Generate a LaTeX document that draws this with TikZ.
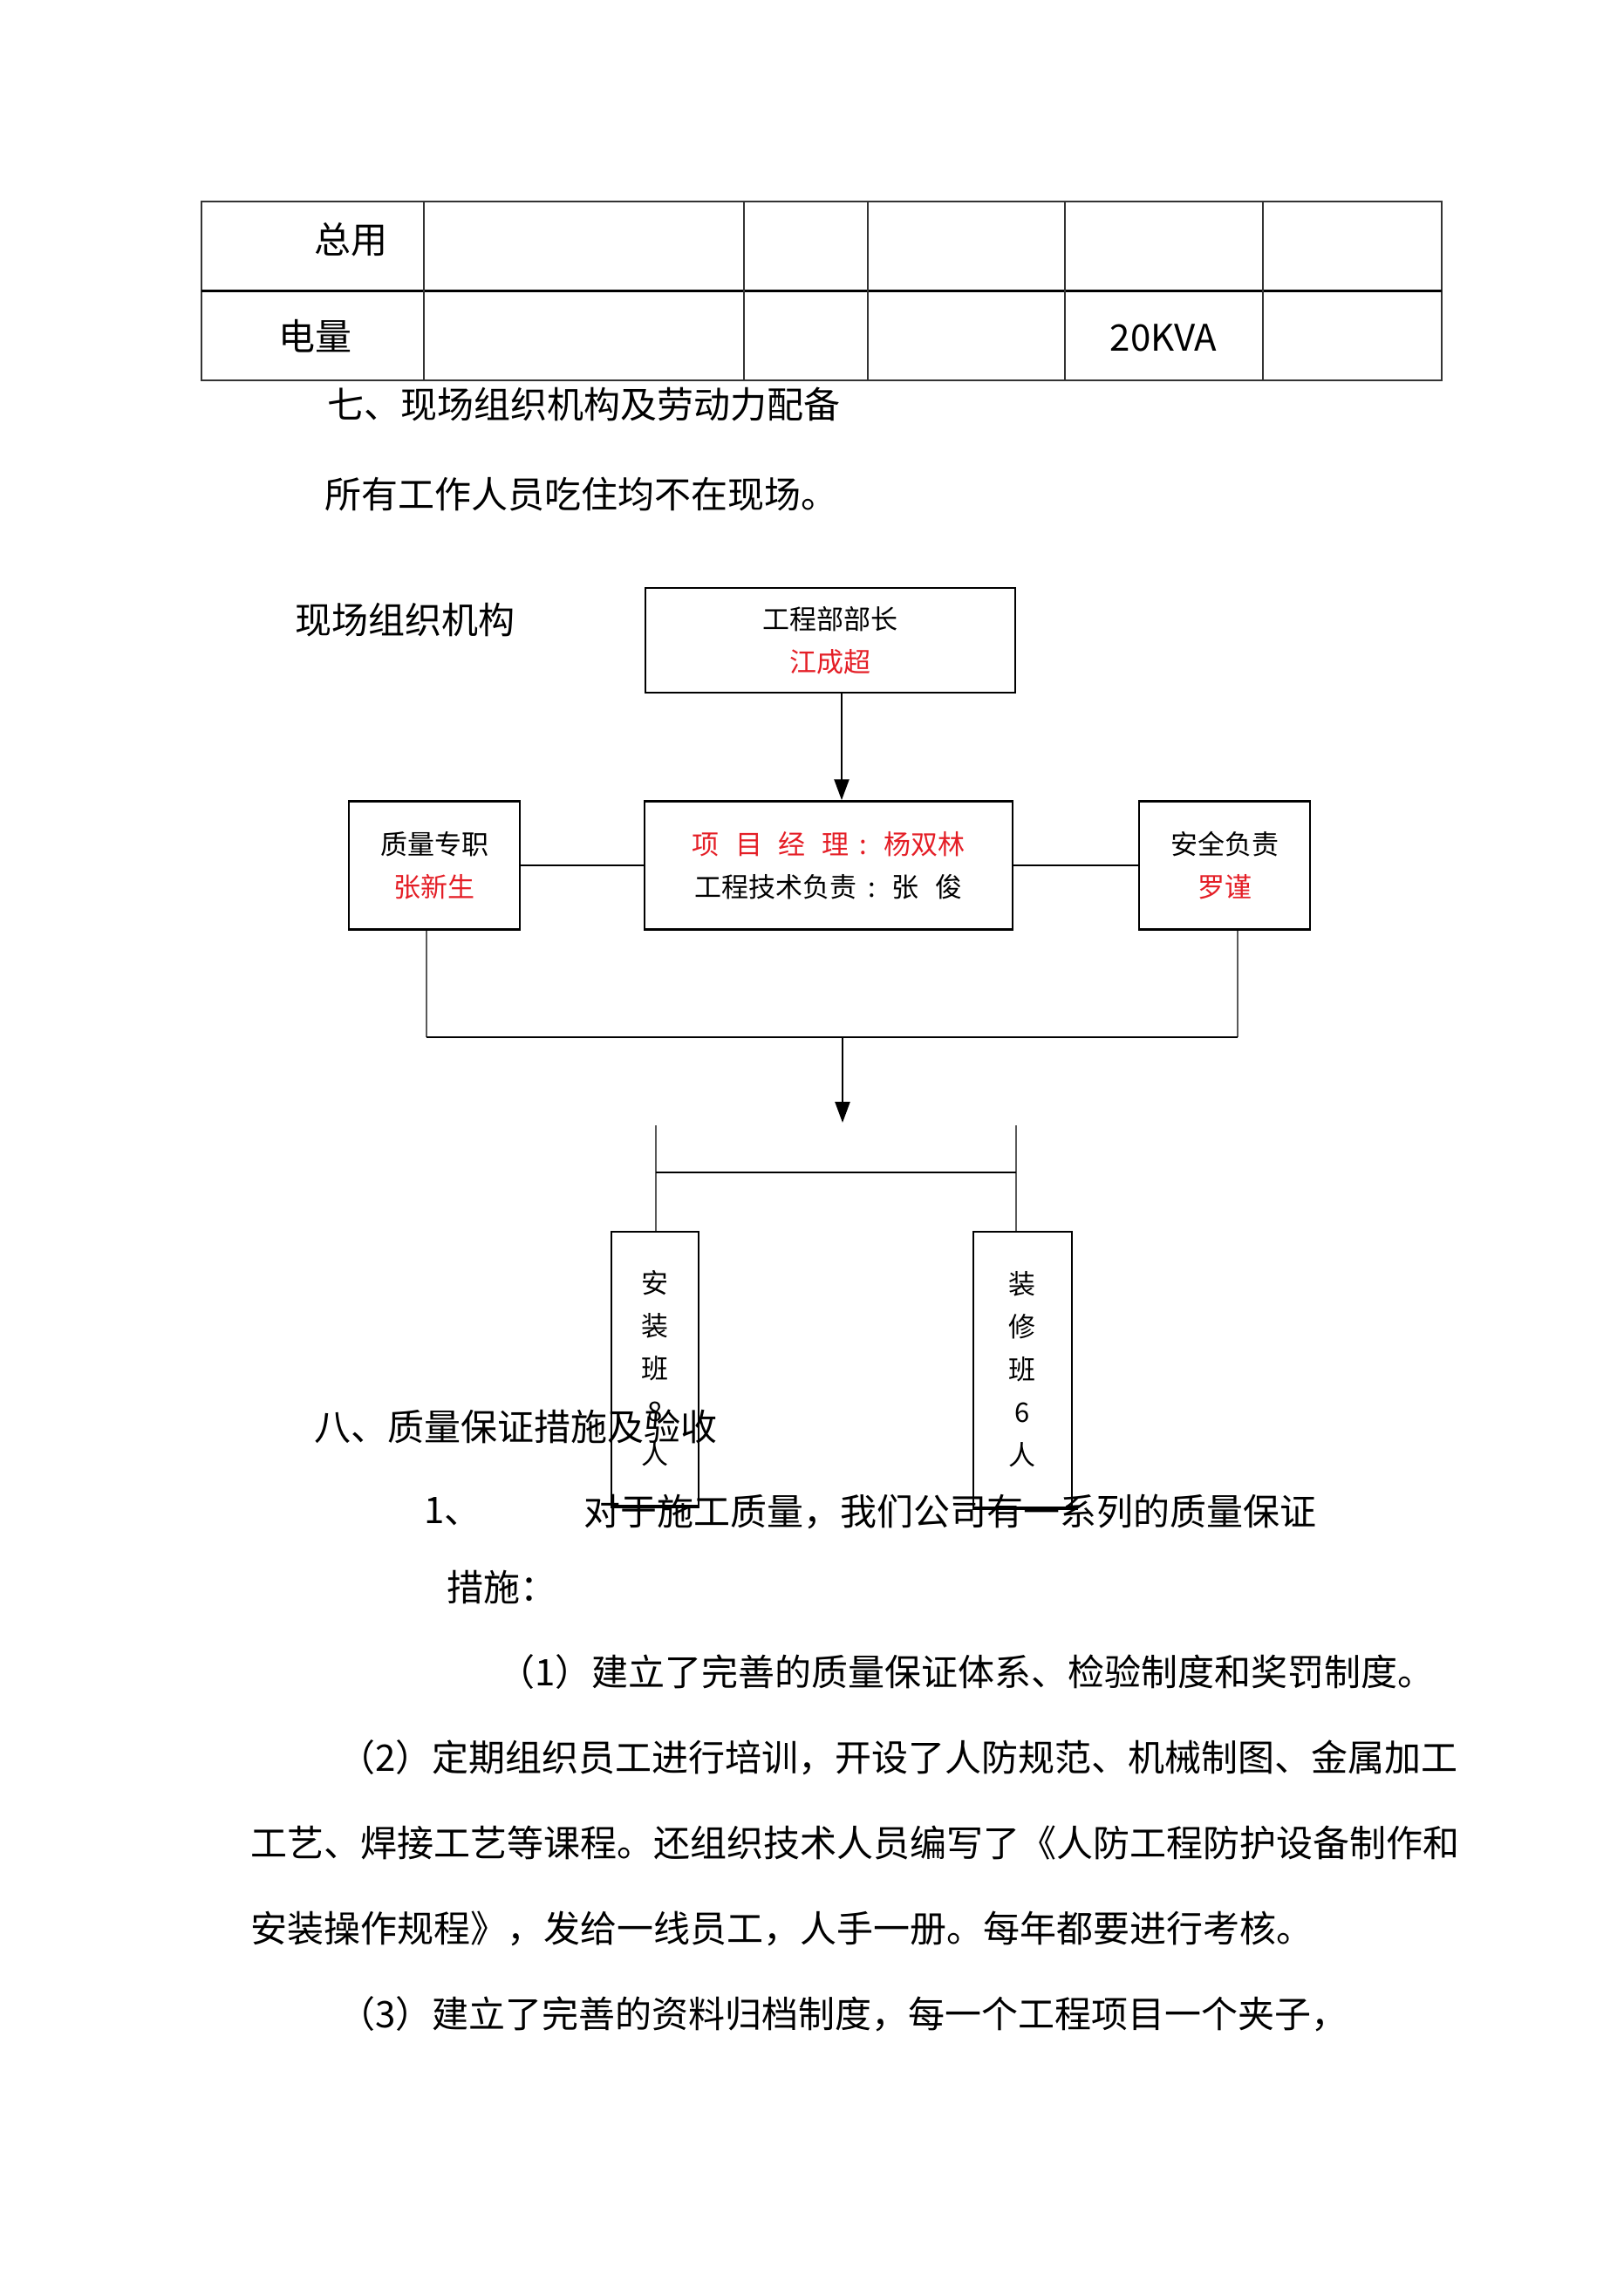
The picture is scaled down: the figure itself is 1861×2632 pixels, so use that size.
\documentclass[tikz,border=0pt]{standalone}
\usepackage{fontspec}
\setmainfont{Noto Sans CJK SC}
\usetikzlibrary{arrows.meta}
\definecolor{myred}{RGB}{228,30,38}
\begin{document}
\begin{tikzpicture}[x=1pt,y=-1pt,
  body/.style={anchor=west,inner sep=0pt,font=\fontsize{42}{50}\selectfont},
  cell/.style={inner sep=0pt,font=\fontsize{42}{50}\selectfont},
  orgbox/.style={draw,line width=2.5pt,inner sep=0pt,align=center,font=\fontsize{31}{49}\selectfont},
  conn/.style={line width=2.5pt},
  gline/.style={line width=2.2pt,black!65},
  arr/.style={line width=2.5pt,-{Triangle[length=24pt,width=17pt]}},
  tbl/.style={line width=1.5pt,black!80}]
\useasboundingbox (0,0) rectangle (1861,2632);

% ---------- table ----------
\draw[tbl] (231,231) rectangle (1653,436);
\draw[line width=3pt] (231,333) -- (1653,333);
\foreach \cx in {486,853,995,1221,1448}{\draw[tbl] (\cx,231) -- (\cx,436);}
\node[cell] (c1) at (402,275) {总用};
\node[cell] (c2) at (361,385) {电量};
\node[cell] (c3) at (1334,387) {20KVA};

% ---------- text above ----------
\node[body] (h7) at (375,464) {七、现场组织机构及劳动力配备};
\node[body] (p1) at (372,567) {所有工作人员吃住均不在现场。};
\node[body] (org) at (338,711) {现场组织机构};

% ---------- org chart ----------
\node[orgbox,minimum width=424pt,minimum height=120pt] (top) at (952,734)
  {工程部部长\\\textcolor{myred}{江成超}};
\node[orgbox,minimum width=422pt,minimum height=147pt] (mid) at (950,992)
  {\textcolor{myred}{项\hspace{0.6em}目\hspace{0.6em}经\hspace{0.6em}理\hspace{0.4em}:\hspace{0.6em}杨双林}\\工程技术负责\hspace{0.4em}:\hspace{0.6em}张\hspace{0.6em}俊};
\node[orgbox,minimum width=196pt,minimum height=147pt] (qual) at (498,992)
  {质量专职\\\textcolor{myred}{张新生}};
\node[orgbox,minimum width=196pt,minimum height=147pt] (safe) at (1404,992)
  {安全负责\\\textcolor{myred}{罗谨}};

\draw[arr] ([xshift=13pt]top.south) -- ([xshift=15pt]mid.north);
\draw[conn] (qual.east) -- (mid.west);
\draw[conn] (mid.east) -- (safe.west);

\coordinate (busL) at (489,1189);
\coordinate (busR) at (1419,1189);
\coordinate (busM) at (966,1189);
\coordinate (tip) at (966,1287);
\draw[gline] (qual.south -| busL) -- (busL);
\draw[gline] (safe.south -| busR) -- (busR);
\draw[conn] (busL) -- (busR);
\draw[arr] (busM) -- (tip);

% ---------- text below (under the boxes) ----------
\node[body] (h8) at (360,1635) {八、质量保证措施及验收};
\node[body] (n1) at (486,1733) {1、};
\node[body] (n1t) at (669,1733) {对于施工质量，我们公司有一系列的质量保证};
\node[body] (n1b) at (512,1819) {措施：};
\node[body] (q1) at (571,1917) {（1）建立了完善的质量保证体系、检验制度和奖罚制度。};
\node[body] (q2) at (388,2015) {（2）定期组织员工进行培训，开设了人防规范、机械制图、金属加工};
\node[body] (q2b) at (287,2113) {工艺、焊接工艺等课程。还组织技术人员编写了《人防工程防护设备制作和};
\node[body] (q2c) at (287,2211) {安装操作规程》，发给一线员工，人手一册。每年都要进行考核。};
\node[body] (q3) at (388,2309) {（3）建立了完善的资料归档制度，每一个工程项目一个夹子，};

% ---------- team boxes ----------
\node[orgbox,line width=2pt,minimum width=100pt,minimum height=314pt] (ban1) at (751,1569)
  {安\\装\\班\\8\\人};
\node[orgbox,line width=2pt,minimum width=113pt,minimum height=316pt] (ban2) at (1172,1570)
  {装\\修\\班\\6\\人};
\draw[line width=3pt] (ban1.south west) -- (ban1.south east);
\draw[line width=3pt] (ban2.south west) -- ([xshift=6pt]ban2.south east);

\coordinate (tL) at (752,1290);
\coordinate (tR) at (1165,1290);
\coordinate (hL) at (752,1344);
\coordinate (hR) at (1165,1344);
\draw[gline] (tL) -- (ban1.north -| tL);
\draw[gline] (tR) -- (ban2.north -| tR);
\draw[conn] (hL) -- (hR);
\end{tikzpicture}
\end{document}
